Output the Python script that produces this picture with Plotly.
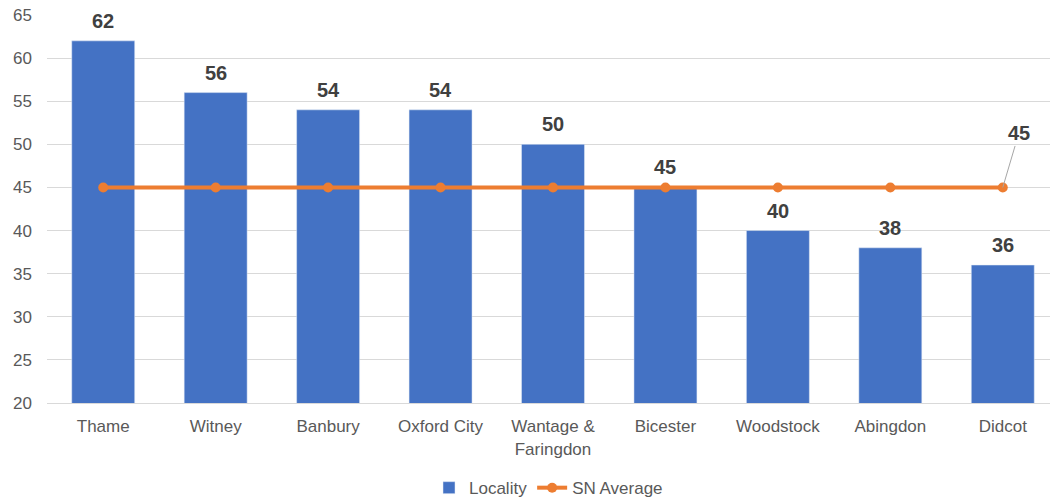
import plotly.graph_objects as go

categories = ["Thame", "Witney", "Banbury", "Oxford City", "Wantage &<br>Faringdon",
              "Bicester", "Woodstock", "Abingdon", "Didcot"]
locality = [62, 56, 54, 54, 50, 45, 40, 38, 36]
sn_average = [45, 45, 45, 45, 45, 45, 45, 45, 45]
y_ticks = [20, 25, 30, 35, 40, 45, 50, 55, 60, 65]

blue = "#4472C4"
orange = "#ED7D31"
font = "Liberation Sans, Arial, sans-serif"

fig = go.Figure()
fig.add_trace(go.Bar(
    x=categories, y=locality, name="Locality", marker_color=blue,
))
fig.add_trace(go.Scatter(
    x=categories, y=sn_average, name="SN Average", mode="lines+markers",
    line=dict(color=orange, width=4), marker=dict(color=orange, size=10),
))
for c, v in zip(categories, locality):
    fig.add_annotation(
        x=c, y=v, text=f"<b>{v}</b>", showarrow=False, yanchor="bottom", yshift=7,
        font=dict(size=20, color="#404040", family=font),
    )
fig.add_annotation(
    x=categories[-1], y=sn_average[-1], text=f"<b>{sn_average[-1]}</b>", showarrow=True,
    arrowhead=0, arrowwidth=1, arrowcolor="#A6A6A6", ax=16, ay=-54,
    font=dict(size=20, color="#404040", family=font),
)

fig.update_layout(
    width=1051, height=500,
    margin=dict(l=47, r=1, t=15, b=97, autoexpand=False),
    paper_bgcolor="white", plot_bgcolor="white",
    bargap=0.44,
    font=dict(family=font, size=17, color="#595959"),
    showlegend=True,
    legend=dict(orientation="h", x=0.5, xanchor="center", y=-0.173, yanchor="top",
                font=dict(size=17, color="#595959")),
    xaxis=dict(showgrid=False, showline=True, linecolor="#D9D9D9", ticks="",
               range=[-0.5, 8.42], tickfont=dict(size=17), automargin=False,
               ticklabelstandoff=8),
    yaxis=dict(range=[20, 65], tickvals=y_ticks, showgrid=True, gridcolor="#D9D9D9",
               zeroline=False, ticks="", tickfont=dict(size=17), automargin=False,
               ticklabelstandoff=14),
)

fig.write_html("out.html", config={"displayModeBar": False},
               post_script="document.body.style.margin='0';")
